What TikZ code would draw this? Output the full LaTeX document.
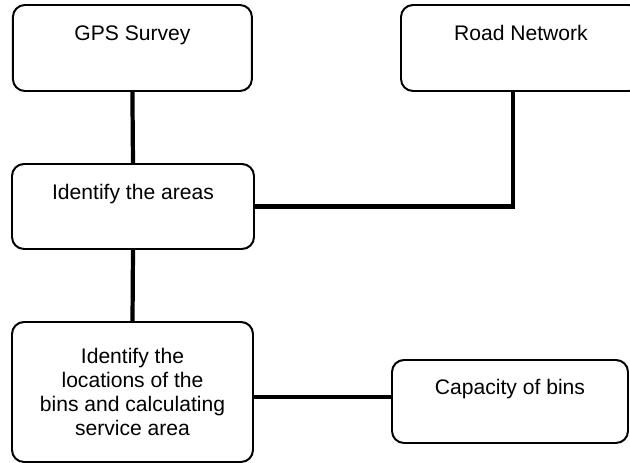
\documentclass[tikz,border=0pt]{standalone}
\usepackage{fontspec}
\setmainfont{Liberation Sans}
\usepackage{tikz}

\tikzset{
  stepbox/.style={draw, line width=1.4pt, rounded corners=0.3cm, fill=white,
                  align=center, font=\fontsize{15}{17}\selectfont, inner sep=0pt},
  toptext/.style={text height=0.4cm, text depth=0.77cm},
  link/.style={line width=3pt}
}

\begin{document}
\begin{tikzpicture}
        \useasboundingbox (0,0) rectangle (15.75,11.575);            %

        \node [stepbox, toptext, minimum width=5.975cm, minimum height=2.15cm]  (gps)   at (3.31,10.375)  {GPS Survey};     %
        \node [stepbox, toptext, minimum width=6cm, minimum height=2.15cm]      (road)  at (13.025,10.375) {Road Network};  %
        \node [stepbox, toptext, minimum width=6.05cm, minimum height=2.125cm]  (areas) at (3.325,6.4125) {Identify the areas}; %
        \node [stepbox, minimum width=6.025cm, minimum height=3.5cm]            (loc)   at (3.3125,1.775) {Identify the\\locations of the\\bins and calculating\\service area}; %
        \node [stepbox, toptext, minimum width=5.9cm, minimum height=2.075cm]   (cap)   at (12.75,1.5375) {Capacity of bins}; %

        \draw [link] (gps.south)   -- (areas.north);                 %
        \draw [link] ([xshift=-0.2cm]road.south) |- (areas.east);    %
        \draw [link] (areas.south) -- (loc.north);                   %
        \draw [link] ([yshift=-1.25mm]loc.east) -- ([yshift=-1.25mm]loc.east -| cap.west); %
      \end{tikzpicture}
\end{document}
